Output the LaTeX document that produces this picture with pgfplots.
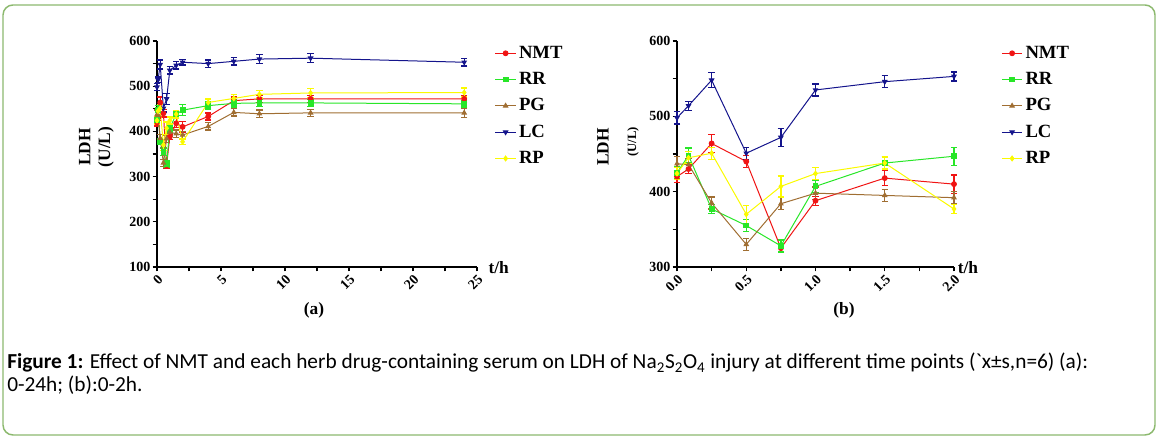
\documentclass[border=0pt]{standalone}
\usepackage{fontspec}
\setmainfont{Liberation Serif}
\newfontfamily\capfont{Carlito}
\usepackage{pgfplots}
\pgfplotsset{compat=1.18}
\usepackage{pgfplotstable}
\definecolor{framegreen}{RGB}{140,185,110}
\definecolor{cNMT}{RGB}{240,20,20}
\definecolor{cRR}{RGB}{40,230,40}
\definecolor{cPG}{RGB}{160,110,50}
\definecolor{cLC}{RGB}{20,20,140}
\definecolor{cRP}{RGB}{250,250,0}

\pgfplotstableread{
t     NMT eN  RR  eR  PG  eP  LC  eL  RP  eY
0     420 8   425 8   437 10  498 8   424 8
0.083 430 6   448 10  436 8   514 6   445 8
0.25  464 12  377 6   385 8   548 10  451 8
0.5   440 8   355 8   330 8   451 8   370 12
0.75  325 6   328 8   384 8   472 12  407 14
1     388 6   407 8   398 8   535 8   424 8
1.5   418 10  438 8   395 8   546 8   438 8
2     410 12  447 12  392 8   553 6   377 6
4     433 8   457 8   411 8   550 8   464 8
6     468 8   462 8   442 8   555 8   473 8
8     472 8   463 8   439 8   560 10  482 8
12    472 8   463 8   441 8   562 10  485 10
24    472 8   461 8   441 10  553 8   486 10
}\dataA

\pgfplotstableread{
t     NMT eN  RR  eR  PG  eP  LC  eL  RP  eY
0     420 8   425 8   437 10  498 8   424 8
0.083 430 6   448 10  436 8   514 6   445 8
0.25  464 12  377 6   385 8   548 10  451 8
0.5   440 8   355 8   330 8   451 8   370 12
0.75  325 6   328 8   384 8   472 12  407 14
1     388 6   407 8   398 8   535 8   424 8
1.5   418 10  438 8   395 8   546 8   438 8
2     410 12  447 12  392 8   553 6   377 6
}\dataB

\pgfplotsset{
  lddstyle/.style={
    scale only axis,
    axis x line=bottom, axis y line=left,
    axis line style={-, line width=1.3pt, black},
    tick style={black, line width=1pt},
    major tick length=3.3pt, minor tick length=3.3pt,
    tick align=outside,
    xtick pos=bottom, ytick pos=left,
    /pgf/number format/assume math mode=true,
    tick label style={font=\bfseries\fontsize{10.5}{11}\selectfont},
    y tick label style={inner sep=1.5pt},
    x tick label style={rotate=45, anchor=north east, inner sep=1pt},
    minor x tick num=1, minor y tick num=1,
    clip=false,
    legend cell align=left,
    legend style={draw=none, fill=none, font=\bfseries\fontsize{14}{15}\selectfont, row sep=5pt, inner sep=0pt},
    legend image code/.code={
      \draw[mark repeat=2,mark phase=2] plot coordinates {(0cm,0cm) (0.27cm,0cm) (0.54cm,0cm)};
    },
    every axis plot/.append style={line width=0.75pt, mark size=1.8pt,
      error bars/y dir=both, error bars/y explicit,
      error bars/error bar style={line width=1pt},
      error bars/error mark options={rotate=90, mark size=2.4pt, line width=1pt}},
  },
}

\begin{document}
\begin{tikzpicture}
\useasboundingbox (0,0) rectangle (868.5pt,328.5pt);
\draw[framegreen, line width=1.1pt, rounded corners=7.5pt] (2.25pt,2.25pt) rectangle (866.25pt,324.75pt);

% ---------- (a)
\begin{axis}[lddstyle,
  at={(117.75pt,128.25pt)}, anchor=south west,
  width=240pt, height=169.5pt,
  xmin=0, xmax=25, ymin=100, ymax=600,
  xtick={0,5,10,15,20,25},
  ytick={100,200,300,400,500,600},
  legend style={at={(1.055,0.99)}, anchor=north west},
]
\addplot[cNMT, mark=*, mark options={fill=cNMT}] table[x=t, y=NMT, y error=eN] {\dataA};
\addplot[cRR, mark=square*, mark options={fill=cRR}] table[x=t, y=RR, y error=eR] {\dataA};
\addplot[cPG, mark=triangle*, mark options={fill=cPG}] table[x=t, y=PG, y error=eP] {\dataA};
\addplot[cLC, mark=triangle*, mark options={fill=cLC, rotate=180}] table[x=t, y=LC, y error=eL] {\dataA};
\addplot[cRP, mark=diamond*, mark options={fill=cRP}] table[x=t, y=RP, y error=eY] {\dataA};
\legend{NMT,RR,PG,LC,RP}
\end{axis}

% ---------- (b)
\begin{axis}[lddstyle,
  at={(507.75pt,128.25pt)}, anchor=south west,
  width=207.75pt, height=169.5pt,
  xmin=0, xmax=2, ymin=300, ymax=600,
  xtick={0,0.5,1,1.5,2},
  xticklabels={0.0,0.5,1.0,1.5,2.0},
  ytick={300,400,500,600},
  legend style={at={(1.17,0.99)}, anchor=north west},
]
\addplot[cNMT, mark=*, mark options={fill=cNMT}] table[x=t, y=NMT, y error=eN] {\dataB};
\addplot[cRR, mark=square*, mark options={fill=cRR}] table[x=t, y=RR, y error=eR] {\dataB};
\addplot[cPG, mark=triangle*, mark options={fill=cPG}] table[x=t, y=PG, y error=eP] {\dataB};
\addplot[cLC, mark=triangle*, mark options={fill=cLC, rotate=180}] table[x=t, y=LC, y error=eL] {\dataB};
\addplot[cRP, mark=diamond*, mark options={fill=cRP}] table[x=t, y=RP, y error=eY] {\dataB};
\legend{NMT,RR,PG,LC,RP}
\end{axis}

% labels (a)
\node[rotate=90, font=\bfseries\fontsize{13}{14}\selectfont] at (63.5pt,218.25pt) {LDH};
\node[rotate=90, font=\bfseries\fontsize{13}{14}\selectfont] at (79.5pt,218.25pt) {(U/L)};
\node[font=\bfseries\fontsize{13}{14}\selectfont] at (374pt,127.5pt) {t/h};
\node[font=\bfseries\fontsize{13}{14}\selectfont] at (235.5pt,96pt) {(a)};
% labels (b)
\node[rotate=90, font=\bfseries\fontsize{13}{14}\selectfont] at (452.25pt,218.25pt) {LDH};
\node[rotate=90, font=\bfseries\fontsize{9.5}{10}\selectfont] at (474.75pt,222pt) {(U/L)};
\node[font=\bfseries\fontsize{13}{14}\selectfont] at (726pt,127.5pt) {t/h};
\node[font=\bfseries\fontsize{13}{14}\selectfont] at (633pt,96pt) {(b)};

% caption
\node[anchor=base west, inner sep=0pt, font=\capfont\fontsize{16}{19}\selectfont] at (5.25pt,51.75pt)
  {\textbf{Figure 1:} Effect of NMT and each herb drug-containing serum on LDH of Na\textsubscript{2}S\textsubscript{2}O\textsubscript{4} injury at different time points (\textasciigrave x±s,n=6) (a):};
\node[anchor=base west, inner sep=0pt, font=\capfont\fontsize{16}{19}\selectfont] at (5.25pt,34.5pt)
  {0-24h; (b):0-2h.};
\end{tikzpicture}
\end{document}
